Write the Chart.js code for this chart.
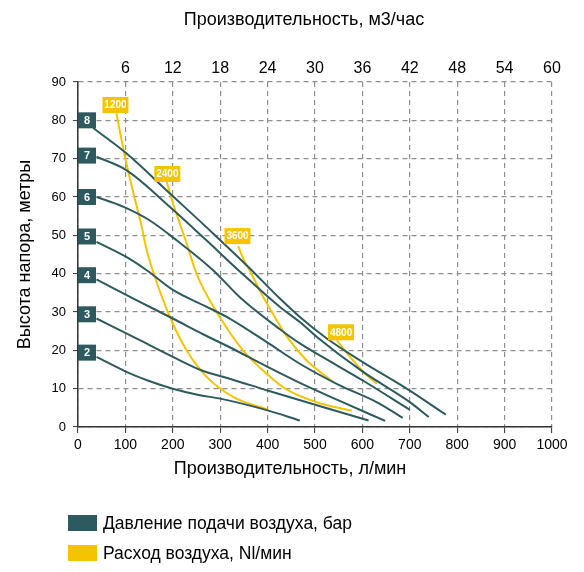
<!DOCTYPE html>
<html>
<head>
<meta charset="utf-8">
<script src="https://cdn.jsdelivr.net/npm/chart.js@4.4.1/dist/chart.umd.min.js"></script>
<style>
html, body { margin: 0; padding: 0; background: #fff; }
#wrap { width: 584px; height: 572px; }
</style>
</head>
<body>
<div id="wrap"><canvas id="myChart"></canvas></div>
<script>
// axis tick labels
const xTickLabels = ['0', '100', '200', '300', '400', '500', '600', '700', '800', '900', '1000']
const topTickLabels = ['', '6', '12', '18', '24', '30', '36', '42', '48', '54', '60']
const yTickLabels = ['0', '10', '20', '30', '40', '50', '60', '70', '80', '90']

// pump curves per air pressure, [л/мин, метры]
const bar8 = [[32, 78], [102, 71.4], [194, 60.9], [285, 50.5], [359, 41.8], [426, 33.5], [468, 28.7], [525, 23.1], [600, 17], [700, 9.5], [776, 3.2]]
const bar7 = [[39, 70.5], [102, 67], [194, 57.4], [271, 48.7], [342, 40.5], [426, 31.3], [468, 27.4], [504, 23.5], [600, 14.5], [700, 6.5], [740, 2.6]]
const bar6 = [[39, 60], [95, 57.5], [150, 54], [208, 48.7], [285, 40.9], [342, 33.8], [426, 25.5], [468, 21.8], [511, 18.6], [600, 12.2], [700, 4.5]]
const bar5 = [[39, 48.3], [100, 44.5], [145, 40.9], [201, 35.7], [264, 31.8], [320, 28.3], [400, 22], [468, 16.5], [550, 11], [630, 6.5], [685, 2.4]]
const bar4 = [[39, 38.5], [123, 33.1], [200, 28.3], [264, 24.2], [320, 20.8], [398, 15.8], [468, 11.5], [552, 6.8], [648, 1.6]]
const bar3 = [[39, 28.3], [123, 23.1], [200, 18.3], [264, 14.6], [320, 12.6], [398, 9.6], [511, 5.4], [613, 1.7]]
const bar2 = [[39, 18.3], [102, 14.4], [150, 12], [200, 10], [257, 8.3], [300, 7.4], [398, 4.4], [468, 1.7]]

// air consumption curves, Nl/мин
const air1200 = [[81, 81.8], [99, 70.5], [117, 61], [133, 53], [145, 46.1], [162, 39.2], [194, 28.7], [229, 20], [272, 13], [328, 7.8], [401, 4.5]]
const air2400 = [[187, 64], [200, 58.5], [215, 53], [229, 48], [243, 42.5], [257, 38], [299, 28.7], [348, 20], [398, 13.9], [440, 9.8], [505, 6.4], [578, 4.2]]
const air3600 = [[338, 47.2], [350, 43.5], [362, 40.9], [384, 35.5], [410, 29.8], [440, 23.7], [482, 17.4], [539, 11.7]]
const air4800 = [[546, 22.6], [574, 18.3], [602, 14.4], [630, 11.3]]

// curve labels
const pressureLabels = ['8', '7', '6', '5', '4', '3', '2']
const pressureLabelX = 19
const pressureLabelY = [80, 70.8, 60, 49.7, 39.6, 29.4, 19.4]
const airLabels = ['1200', '2400', '3600', '4800']
const airLabelX = [79, 188.5, 336.5, 555]
const airLabelY = [84, 66, 49.8, 24.7]

const legendLabels = ['Давление подачи воздуха, бар', 'Расход воздуха, Nl/мин']

const DARK = '#2d5a5f'
const YELLOW = '#f5c400'
const FONT = '"Liberation Sans", Arial, sans-serif'

function toXY(arr) {
	return arr.map(p => ({ x: p[0], y: p[1] }))
}

function curve(arr, color) {
	return {
		data: toXY(arr),
		borderColor: color,
		backgroundColor: color,
		borderWidth: 2,
		pointRadius: 0,
		fill: false,
		cubicInterpolationMode: 'monotone',
		xAxisID: 'x',
		yAxisID: 'y'
	}
}

const datasets = [bar8, bar7, bar6, bar5, bar4, bar3, bar2].map(a => curve(a, DARK))
	.concat([air1200, air2400, air3600, air4800].map(a => curve(a, YELLOW)))

const extras = {
	id: 'extras',
	afterDatasetsDraw(chart) {
		const { ctx } = chart
		const x = chart.scales.x, y = chart.scales.y
		ctx.save()
		ctx.textAlign = 'center'
		ctx.textBaseline = 'middle'
		ctx.font = 'bold 11px ' + FONT
		for (let i = 0; i < pressureLabels.length; i++) {
			const px = x.getPixelForValue(pressureLabelX)
			const py = y.getPixelForValue(pressureLabelY[i])
			ctx.fillStyle = DARK
			ctx.fillRect(px - 9, py - 8, 18, 16)
			ctx.fillStyle = '#fff'
			ctx.fillText(pressureLabels[i], px, py + 0.5)
		}
		ctx.font = 'bold 10px ' + FONT
		for (let i = 0; i < airLabels.length; i++) {
			const px = x.getPixelForValue(airLabelX[i])
			const py = y.getPixelForValue(airLabelY[i])
			ctx.fillStyle = YELLOW
			ctx.fillRect(px - 13, py - 8, 26, 16)
			ctx.fillStyle = '#fff'
			ctx.fillText(airLabels[i], px, py + 0.5)
		}
		ctx.restore()
	},
	afterDraw(chart) {
		const { ctx } = chart
		ctx.save()
		ctx.fillStyle = '#000'
		ctx.font = '18px ' + FONT
		ctx.textAlign = 'center'
		ctx.textBaseline = 'middle'
		ctx.fillText('Производительность, м3/час', 304, 20)
		ctx.fillText('Производительность, л/мин', 290, 469)
		// legend
		ctx.font = '17.5px ' + FONT
		ctx.textAlign = 'left'
		const colors = [DARK, YELLOW]
		for (let i = 0; i < legendLabels.length; i++) {
			const ly = 523 + i * 30
			ctx.fillStyle = colors[i]
			ctx.fillRect(68, ly - 8, 29, 16)
			ctx.fillStyle = '#000'
			ctx.fillText(legendLabels[i], 103, ly + 1)
		}
		ctx.restore()
	}
}

const gridOpts = {
	color: '#8f8f8f',
	lineWidth: 1.2,
	tickColor: '#333',
	tickWidth: 1,
	tickBorderDash: []
}

const ctx = document.getElementById('myChart')
var chart = new Chart(ctx, {
	type: 'line',
	data: { datasets: datasets },
	plugins: [extras],
	options: {
		responsive: true,
		maintainAspectRatio: false,
		animation: false,
		layout: { padding: { left: 0, right: 32, top: 0, bottom: 0 } },
		plugins: {
			legend: { display: false },
			tooltip: { enabled: false }
		},
		scales: {
			x: {
				type: 'linear',
				position: 'bottom',
				min: 0,
				max: 1000,
				ticks: {
					stepSize: 100,
					padding: 4,
					color: '#000',
					font: { family: FONT, size: 14 },
					callback: (v, i) => xTickLabels[i]
				},
				grid: Object.assign({ tickLength: 6 }, gridOpts),
				border: { display: true, color: '#333', width: 1.5, dash: [5, 4] },
				afterFit: s => { s.height = 145 }
			},
			x2: {
				type: 'linear',
				position: 'top',
				min: 0,
				max: 1000,
				ticks: {
					stepSize: 100,
					padding: 4,
					color: '#000',
					font: { family: FONT, size: 16 },
					callback: (v, i) => topTickLabels[i]
				},
				grid: { display: false, drawTicks: false },
				border: { display: false },
				afterFit: s => { s.height = 82 }
			},
			y: {
				type: 'linear',
				min: 0,
				max: 90,
				ticks: {
					stepSize: 10,
					padding: 7,
					color: '#000',
					font: { family: FONT, size: 13 },
					callback: (v, i) => yTickLabels[i]
				},
				grid: Object.assign({ tickLength: 5 }, gridOpts),
				border: { display: true, color: '#333', width: 1.5, dash: [5, 4] },
				title: {
					display: true,
					text: 'Высота напора, метры',
					color: '#000',
					font: { family: FONT, size: 18 },
					padding: { top: 14, bottom: 4 }
				},
				afterFit: s => { s.width = 78 }
			}
		}
	}
})
</script>
</body>
</html>
